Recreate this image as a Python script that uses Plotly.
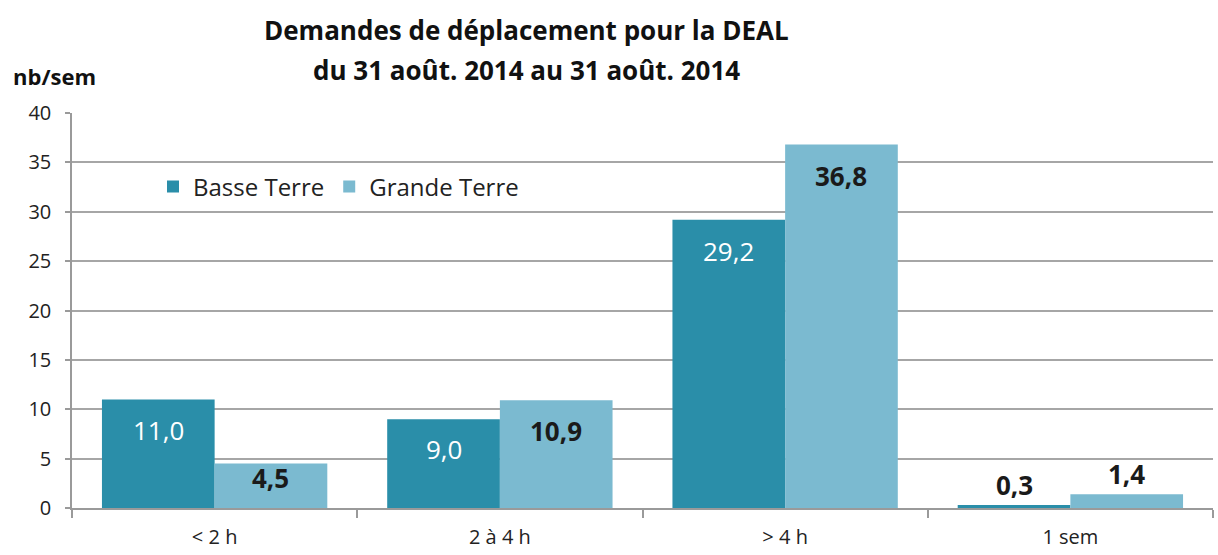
import plotly.graph_objects as go

categories = ["< 2 h", "2 à 4 h", "> 4 h", "1 sem"]
basse_terre = [11.0, 9.0, 29.2, 0.3]
grande_terre = [4.5, 10.9, 36.8, 1.4]
series_names = ["Basse Terre", "Grande Terre"]
y_ticks = [0, 5, 10, 15, 20, 25, 30, 35, 40]

FONT = "'Open Sans', sans-serif"
C_BT = "#2A8EA9"
C_GT = "#7BBAD0"
DARK = "#1a1a1a"

W, H = 1218, 555
L, R, T, B = 72, 5, 113, 47
PW, PH = W - L - R, H - T - B
px_per_unit = PH / 40.0

fig = go.Figure()
fig.add_trace(go.Bar(x=categories, y=basse_terre, name=series_names[0],
                     marker=dict(color=C_BT, line=dict(width=0))))
fig.add_trace(go.Bar(x=categories, y=grande_terre, name=series_names[1],
                     marker=dict(color=C_GT, line=dict(width=0))))

cat_w = PW / len(categories)
bar_w = cat_w * (1 - 0.21) / 2

def fmt(v):
    return f"{v:.1f}".replace(".", ",")

annotations = []
for series, shift, light in ((basse_terre, -bar_w / 2, True), (grande_terre, bar_w / 2, False)):
    for c, v in zip(categories, series):
        bar_px = v * px_per_unit
        if bar_px > 25:
            ys = -min(31, bar_px / 3)
            col = "white" if light else DARK
        else:
            ys = 20
            col = DARK
        txt = fmt(v) if col == "white" else f"<b>{fmt(v)}</b>"
        annotations.append(dict(x=c, y=v, xref="x", yref="y", text=txt,
                                showarrow=False, xshift=shift, yshift=ys,
                                font=dict(family=FONT, size=26, color=col)))

def px_to_paper(xp, yp):
    return (xp - L) / PW, (H - yp - B) / PH

for text, yp in (("<b>Demandes de déplacement pour la DEAL</b>", 30),
                 ("<b>du 31 août. 2014 au 31 août. 2014</b>", 70)):
    px, py = px_to_paper(526, yp)
    annotations.append(dict(text=text, x=px, y=py, xref="paper", yref="paper",
                            xanchor="center", yanchor="middle", showarrow=False,
                            font=dict(family=FONT, size=26, color="#111111")))

px, py = px_to_paper(11, 76)
annotations.append(dict(text="<b>nb/sem</b>", x=px, y=py, xref="paper", yref="paper",
                        xanchor="left", yanchor="middle", showarrow=False,
                        font=dict(family=FONT, size=22, color="#111111")))

lx, ly = px_to_paper(153, 187)
fig.update_layout(
    width=W, height=H,
    margin=dict(l=L, r=R, t=T, b=B),
    paper_bgcolor="white", plot_bgcolor="white",
    barmode="group", bargap=0.21, bargroupgap=0,
    font=dict(family=FONT, size=20, color="#222222"),
    showlegend=True,
    legend=dict(orientation="h", x=lx, y=ly,
                xanchor="left", yanchor="middle", bgcolor="rgba(0,0,0,0)",
                font=dict(family=FONT, size=24, color="#222222"),
                itemwidth=30, tracegroupgap=0),
    annotations=annotations,
    xaxis=dict(showline=True, linecolor="#9a9a9a", linewidth=1.5,
               ticks="outside", tickson="boundaries", ticklen=8,
               tickcolor="#9a9a9a", tickwidth=1.5, automargin=False,
               ticklabelstandoff=10,
               tickfont=dict(family=FONT, size=20, color="#222222"),
               showgrid=False),
    yaxis=dict(range=[0, 40], tickvals=y_ticks, showline=True, linecolor="#9a9a9a",
               linewidth=1.5, ticks="outside", ticklen=5, tickcolor="#9a9a9a",
               tickwidth=1.5, showgrid=True, gridcolor="#a6a6a6", gridwidth=1.5,
               zeroline=False, ticklabelstandoff=10, automargin=False,
               tickfont=dict(family=FONT, size=20, color="#222222")),
)

fig.write_html("out.html", config={"displayModeBar": False},
               post_script="document.body.style.margin='0';")
